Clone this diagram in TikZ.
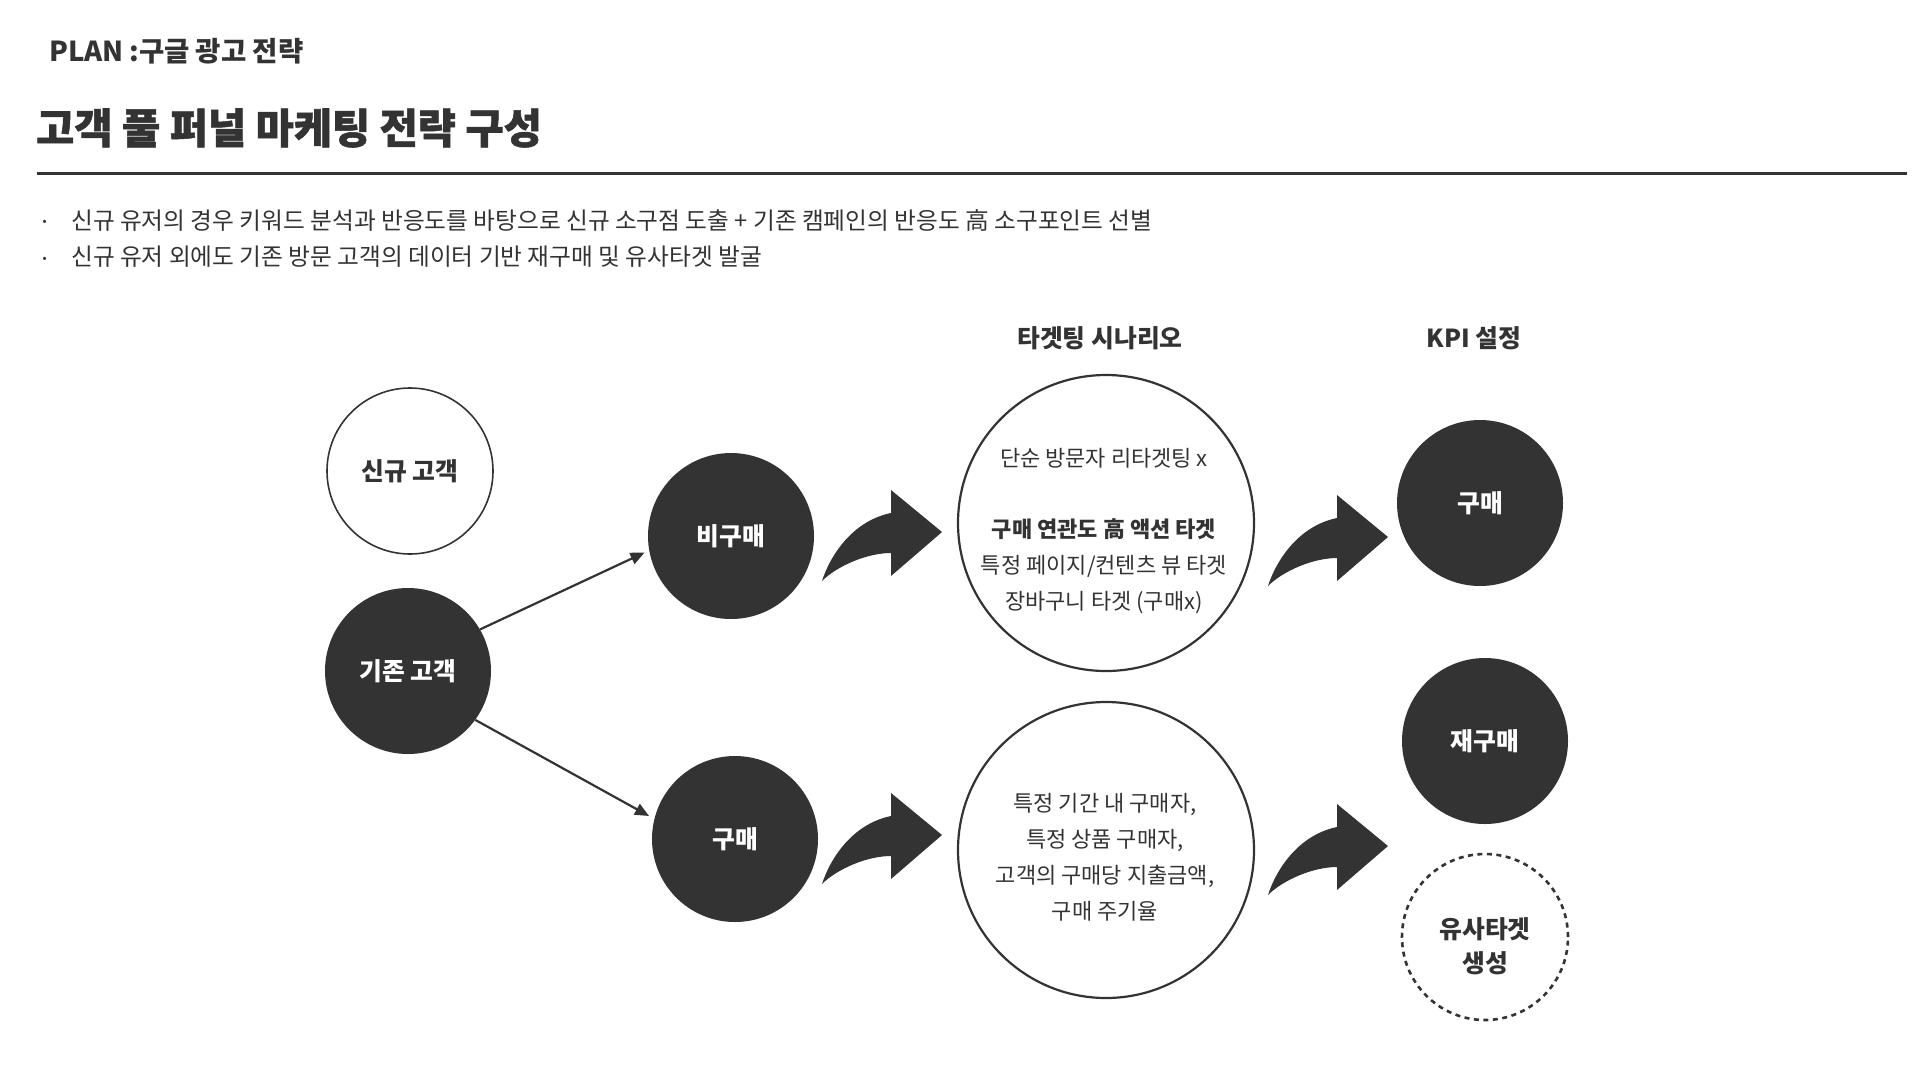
\documentclass[tikz,border=0pt]{standalone}
\usepackage{fontspec}
\setmainfont{Noto Sans CJK KR}
\newfontfamily\heavyfont{Noto Sans CJK KR}[BoldFeatures={FakeBold=1.3}]
\usetikzlibrary{arrows.meta}
\definecolor{inkgray}{HTML}{333333}

\newcommand\lblfont{\fontsize{24.8}{34}\selectfont\bfseries}
\newcommand\txtfont{\fontsize{22}{36}\selectfont}

\tikzset{
  blob/.style={circle,fill=inkgray,text=white,minimum size=166pt,inner sep=0pt,font=\lblfont},
  ring/.style={circle,draw=inkgray,line width=1.6pt,minimum size=166pt,inner sep=0pt,font=\lblfont,text=inkgray},
  bigring/.style={circle,draw=inkgray,line width=2.2pt,minimum size=296pt,inner sep=0pt},
  scentext/.style={align=center,inner sep=0pt,font=\txtfont,text=inkgray},
  link/.style={-{Triangle[length=14pt,width=12pt]},line width=2.2pt,draw=inkgray},
}

\begin{document}
\begin{tikzpicture}[x=1pt,y=-1pt]
   \useasboundingbox (0,0) rectangle (1920,1080);
   % heading
   \node[anchor=west,inner sep=0pt,text=inkgray,font=\fontsize{27.5}{30}\selectfont\bfseries] (plan) at (49,51) {PLAN\hspace{6pt}:구글 광고 전략};
   \node[anchor=west,inner sep=0pt,text=inkgray,font=\fontsize{41.5}{46}\heavyfont\bfseries] (title) at (36,128) {고객 풀 퍼널 마케팅 전략 구성};
   \draw[inkgray,line width=3pt] (37,173) -- (1907,173);
   % bullets
   \node[anchor=west,inner sep=0pt,text=inkgray,font=\fontsize{23.7}{28}\selectfont] (dota) at (38,225) {·};
   \node[anchor=west,inner sep=0pt,text=inkgray,font=\fontsize{23.7}{28}\selectfont] (linea) at (71,220) {신규 유저의 경우 키워드 분석과 반응도를 바탕으로 신규 소구점 도출 + 기존 캠페인의 반응도 高 소구포인트 선별};
   \node[anchor=west,inner sep=0pt,text=inkgray,font=\fontsize{23.7}{28}\selectfont] (dotb) at (38,262) {·};
   \node[anchor=west,inner sep=0pt,text=inkgray,font=\fontsize{23.7}{28}\selectfont] (lineb) at (71,257) {신규 유저 외에도 기존 방문 고객의 데이터 기반 재구매 및 유사타겟 발굴};
   % column heads
   \node[inner sep=0pt,text=inkgray,font=\lblfont] (scenhead) at (1100,338) {타겟팅 시나리오};
   \node[inner sep=0pt,text=inkgray,font=\lblfont] (kpihead) at (1474,338) {KPI 설정};
   % customers
   \node[ring] (newcust) at (410,471) {신규 고객};
   \node[blob] (oldcust) at (408,671) {기존 고객};
   \node[blob] (nonbuy) at (731,536) {비구매};
   \node[blob] (buy) at (735,839) {구매};
   \draw[link,shorten >=5pt] (oldcust.30) -- (nonbuy.190);
   \draw[link,shorten >=6pt] (oldcust.-36) -- (buy.166);
   % scenarios
   \node[bigring] (scentop) at (1106,523) {};
   \node[scentext] (scentoptext) at (1104,531) {단순 방문자 리타겟팅 x\\[35pt]\textbf{구매 연관도 高 액션 타겟}\\특정 페이지/컨텐츠 뷰 타겟\\장바구니 타겟 (구매x)};
   \node[bigring] (scenbot) at (1106,850) {};
   \node[scentext] (scenbottext) at (1105,857) {특정 기간 내 구매자,\\특정 상품 구매자,\\고객의 구매당 지출금액,\\구매 주기율};
   % kpi
   \node[blob] (kpibuy) at (1480,503) {구매};
   \node[blob] (kpirebuy) at (1485,741) {재구매};
   \node[ring,dashed,dash pattern=on 5pt off 4.5pt,line width=2.6pt] (kpilook) at (1485,937) {};
   \node[align=center,inner sep=0pt,text=inkgray,font=\fontsize{24.8}{34}\selectfont\bfseries] (kpilooktext) at (1485,946) {유사타겟\\생성};
   % bent arrows
   \fill[inkgray,shift={(822,581)}] (0,0) .. controls (8,-25) and (30,-60) .. (69,-68) -- (69,-91) -- (120,-49) -- (69,-5) -- (69,-28) .. controls (45,-28) and (15,-15) .. (0,0) -- cycle;
   \fill[inkgray,shift={(822,884)}] (0,0) .. controls (8,-25) and (30,-60) .. (69,-68) -- (69,-91) -- (120,-49) -- (69,-5) -- (69,-28) .. controls (45,-28) and (15,-15) .. (0,0) -- cycle;
   \fill[inkgray,shift={(1268,586)}] (0,0) .. controls (8,-25) and (30,-60) .. (69,-68) -- (69,-91) -- (120,-49) -- (69,-5) -- (69,-28) .. controls (45,-28) and (15,-15) .. (0,0) -- cycle;
   \fill[inkgray,shift={(1268,895)}] (0,0) .. controls (8,-25) and (30,-60) .. (69,-68) -- (69,-91) -- (120,-49) -- (69,-5) -- (69,-28) .. controls (45,-28) and (15,-15) .. (0,0) -- cycle;
\end{tikzpicture}
\end{document}
